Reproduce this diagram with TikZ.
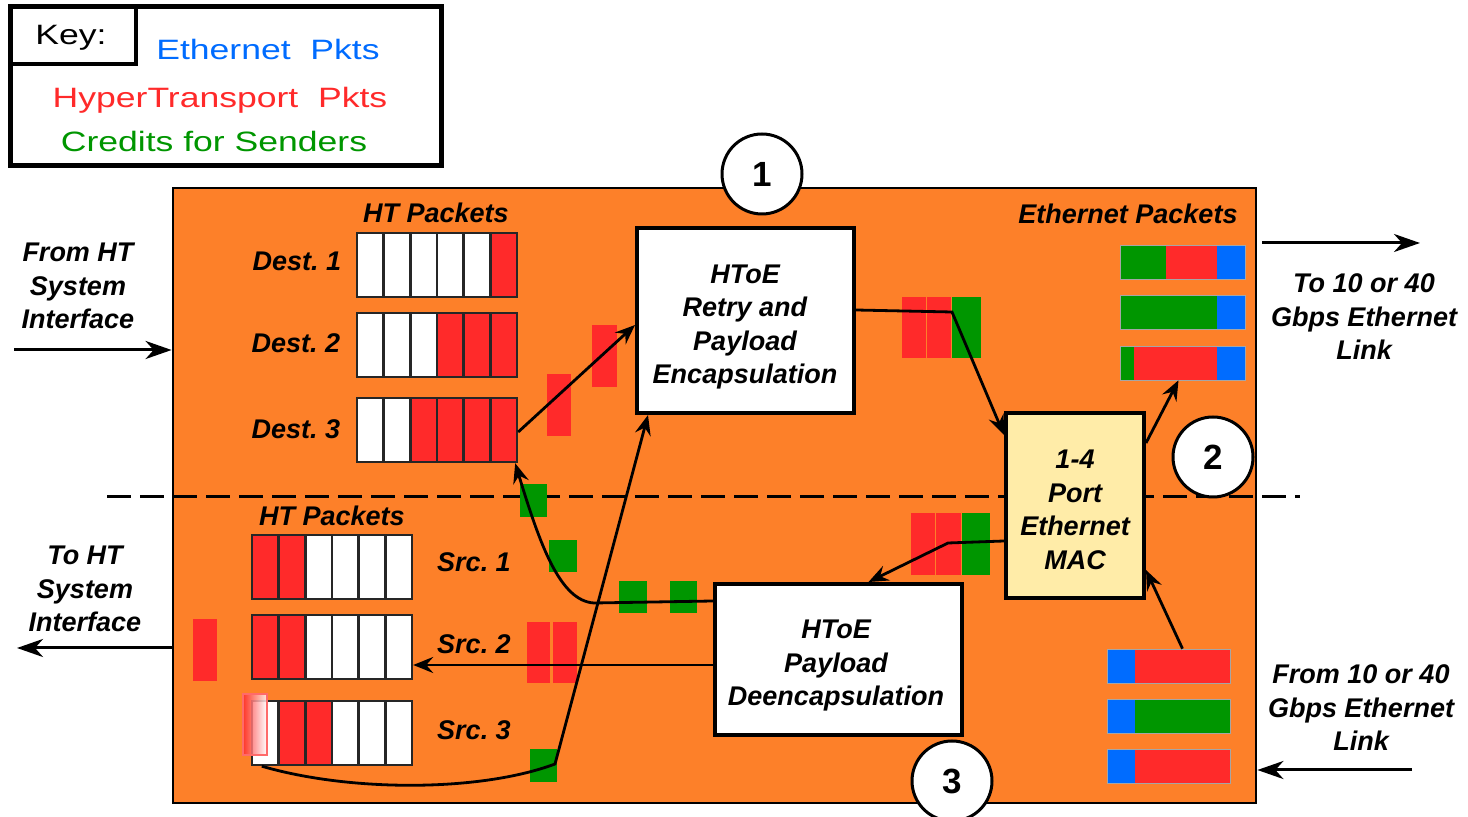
\documentclass[tikz,border=0pt]{standalone}
\usepackage{fontspec}
\setmainfont{Liberation Sans}
\newfontfamily\keyfont[FakeStretch=1.27]{Liberation Sans}
\usetikzlibrary{arrows.meta, calc}
\definecolor{boardorange}{RGB}{253,128,41}
\definecolor{htred}{RGB}{255,42,42}
\definecolor{credgreen}{RGB}{0,150,0}
\definecolor{ethblue}{RGB}{0,108,255}
\definecolor{macyellow}{RGB}{255,236,168}

\begin{document}
\begin{tikzpicture}[x=0.5pt, y=-0.5pt,
    lbl/.style={font=\fontsize{13.5}{16.75}\selectfont\bfseries\itshape, align=center},
    procbox/.style={draw, line width=2pt, fill=white, inner sep=0pt},
    cell/.style={draw=black!85, line width=1.2pt},
    queue/.style={draw=black!85, line width=1.2pt, inner sep=0pt, minimum width=80pt, minimum height=32pt},
    pkt/.style={draw=black!35, line width=0.3pt, inner sep=0pt, minimum height=17pt},
    arr/.style={line width=1.4pt, -{Stealth[length=10pt, width=8pt, inset=3.5pt]}},
    bigarr/.style={line width=1.5pt, -{Stealth[length=13pt, width=9pt, inset=4pt]}},
    circnum/.style={circle, draw, fill=white, line width=1.5pt, minimum size=40pt, inner sep=0pt,
      font=\fontsize{17.5}{17.5}\selectfont\bfseries},
    keytxt/.style={font=\keyfont\fontsize{14}{16}\selectfont}]

    \useasboundingbox (0,0) rectangle (1468,817);

    \node[draw, line width=1.4pt, fill=boardorange, inner sep=0pt, minimum width=541.5pt, minimum height=307.5pt] (board) at (714.5,495.5) {};
    \draw[line width=1.5pt, dash pattern=on 12pt off 4.5pt] (107,497) -- (1300,497);

    % packets in flight
    \foreach \xa/\ya/\xb/\yb in {592/325/617/387, 547/374/571/436, 902/297/926/358, 927/297/951/358,
        911/513/935/575, 936/513/961/575, 527/622/550/683, 553/622/577/683, 193/619/217/681}
      \fill[htred] (\xa,\ya) rectangle (\xb,\yb);
    \foreach \xa/\ya/\xb/\yb in {952/297/981/358, 962/513/990/575, 520/484/547/517, 549/540/577/572,
        619/581/647/613, 670/581/697/613, 530/749/557/782}
      \fill[credgreen] (\xa,\ya) rectangle (\xb,\yb);

    % HT queues
    \foreach \n/\x/\y/\cols in {
        dest1/357/233/{white,white,white,white,white,htred},
        dest2/357/313/{white,white,white,htred,htred,htred},
        dest3/357/398/{white,white,htred,htred,htred,htred},
        src1/252/535/{htred,htred,white,white,white,white},
        src2/252/615/{htred,htred,white,white,white,white},
        src3/252/701/{white,htred,htred,white,white,white}}{
      \foreach \c [count=\i from 0] in \cols
        \draw[cell, fill=\c] (\x+26.67*\i,\y) rectangle ++(26.67,64);
      \node[queue] (\n) at (\x+80,\y+32) {};
    }
    \shade[left color=htred, right color=white, opacity=0.85] (243,694) rectangle (267,755);
    \draw[htred!70, line width=0.6pt] (243,694) rectangle (267,755);

    % Ethernet packets
    \foreach \xa/\xb/\ya/\c in {1120/1166/245/credgreen, 1166/1217/245/htred, 1217/1245/245/ethblue,
        1120/1217/295/credgreen, 1217/1245/295/ethblue,
        1120/1134/346/credgreen, 1134/1217/346/htred, 1217/1245/346/ethblue,
        1107/1135/649/ethblue, 1135/1230/649/htred,
        1107/1135/699/ethblue, 1135/1230/699/credgreen,
        1107/1135/749/ethblue, 1135/1230/749/htred}
      \fill[\c] (\xa,\ya) rectangle (\xb,\ya+34);
    \node[pkt, minimum width=62.5pt] (ethout1) at (1182.5,262) {};
    \node[pkt, minimum width=62.5pt] (ethout2) at (1182.5,312) {};
    \node[pkt, minimum width=62.5pt] (ethout3) at (1182.5,363) {};
    \node[pkt, minimum width=61.5pt] (ethin1) at (1168.5,666) {};
    \node[pkt, minimum width=61.5pt] (ethin2) at (1168.5,716) {};
    \node[pkt, minimum width=61.5pt] (ethin3) at (1168.5,766) {};

    \node[procbox, minimum width=108.5pt, minimum height=92.5pt] (encap) at (745.5,320.5) {};
    \node[procbox, fill=macyellow, minimum width=69pt, minimum height=92.5pt] (mac) at (1075,505.5) {};
    \node[procbox, minimum width=123.5pt, minimum height=75.5pt] (deencap) at (838.5,659.5) {};
    \node[lbl] (encaptxt) at (745,327) {HToE\\Retry and\\Payload\\Encapsulation};
    \node[lbl] (mactxt) at (1075,510) {1-4\\Port\\Ethernet\\MAC};
    \node[lbl] (deencaptxt) at (836,666) {HToE\\Payload\\Deencapsulation};

    \draw[arr] ([yshift=-1pt]dest3.east) -- ([yshift=-2.25pt]encap.west);
    \draw[arr] ([xshift=5.5pt]src3.south west) .. controls (350,792) and (480,792) .. (555,764) -- ([xshift=6.5pt]encap.south west);
    \draw[arr] ([yshift=-9.5pt]deencap.north west) -- (594,603) .. controls (560,601) and (540,545) .. ([xshift=-1.5pt]dest3.south east);
    \draw[arr] ([yshift=-42pt]encap.north east) -- (952,312) -- ([yshift=-12pt]mac.north west);
    \draw[arr] ([yshift=-65pt]mac.north west) -- (948,543) -- ([xshift=15pt]deencap.north);
    \draw[arr] ([yshift=36pt]deencap.south west) coordinate (f0) -- (f0 -| src2.east);
    \draw[arr] ([yshift=-16pt]mac.north east) -- ([xshift=-2pt]ethout3.south);
    \draw[arr] ([xshift=7pt]ethin1.north) -- ([yshift=15pt]mac.south east);

    \coordinate (htin) at (14,350);
    \coordinate (htout) at (17,648);
    \coordinate (linkout) at (1420,243);
    \coordinate (linkin) at (1412,770);
    \draw[bigarr] (htin) -- (htin -| board.west);
    \draw[bigarr] (htout -| board.west) -- (htout);
    \draw[bigarr] ($(linkout -| board.east)+(5,0)$) -- (linkout);
    \draw[bigarr] (linkin) -- (linkin -| board.east);

    \node[circnum] (num1) at (762,174) {1};
    \node[circnum] (num2) at (1213,457) {2};
    \node[circnum] (num3) at (952,781) {3};

    \node[draw, line width=2.5pt, fill=white, minimum width=215.5pt, minimum height=79.5pt, inner sep=0pt] (keybox) at (225.5,86.5) {};
    \node[draw, line width=2.2pt, minimum width=63pt, minimum height=28.5pt, inner sep=0pt] (keylbl) at (73,35.5) {};
    \node[keytxt] (keylbltxt) at (71,38) {Key:};
    \node[keytxt, text=ethblue] (keyeth) at (268,49) {Ethernet~~Pkts};
    \node[keytxt, text=htred] (keyht) at (220,100) {HyperTransport~~Pkts};
    \node[keytxt, text=credgreen] (keycred) at (214,141) {Credits for Senders};

    \node[lbl] (desthead) at (436,213) {HT Packets};
    \node[lbl] (dest1lbl) at (297,261) {Dest.\ 1};
    \node[lbl] (dest2lbl) at (296,343) {Dest.\ 2};
    \node[lbl] (dest3lbl) at (296,429) {Dest.\ 3};
    \node[lbl] (srchead) at (332,516) {HT Packets};
    \node[lbl] (src1lbl) at (474,562) {Src.\ 1};
    \node[lbl] (src2lbl) at (474,644) {Src.\ 2};
    \node[lbl] (src3lbl) at (474,730) {Src.\ 3};
    \node[lbl] (ethhead) at (1128,214) {Ethernet Packets};
    \node[lbl] (htintxt) at (78,286) {From HT\\System\\Interface};
    \node[lbl] (htouttxt) at (85,589) {To HT\\System\\Interface};
    \node[lbl] (linkouttxt) at (1364,317) {To 10 or 40\\Gbps Ethernet\\Link};
    \node[lbl] (linkintxt) at (1361,708) {From 10 or 40\\Gbps Ethernet\\Link};
\end{tikzpicture}
\end{document}
